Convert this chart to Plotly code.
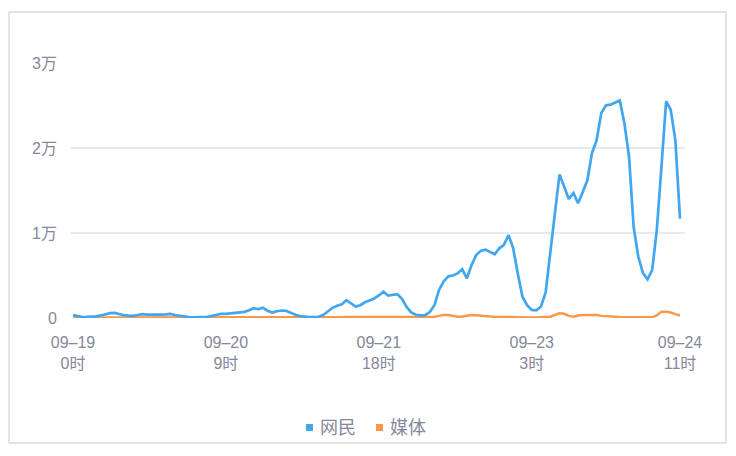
import plotly.graph_objects as go

# hourly index from 09-19 0时 to 09-24 11时
hours = list(range(132))

tick_hours = [0, 33, 66, 99, 131]
tick_labels = ["09–19<br>0时", "09–20<br>9时", "09–21<br>18时", "09–23<br>3时", "09–24<br>11时"]

y_ticks = [0, 10000, 20000, 30000]
y_labels = ["0", "1万", "2万", "3万"]

series_names = ["网民", "媒体"]

netizen = [
    330, 200, 120, 130, 150, 200, 300, 450, 580, 600,
    450, 330, 280, 250, 350, 450, 400, 380, 400, 400,
    420, 480, 350, 250, 150, 100, 80, 80, 100, 150,
    250, 400, 500, 480, 550, 600, 620, 720, 900, 1150,
    1050, 1200, 850, 650, 800, 880, 850, 600, 380, 230,
    130, 100, 100, 150, 350, 750, 1200, 1450, 1600, 2100,
    1750, 1350, 1500, 1850, 2050, 2300, 2650, 3100, 2650, 2700,
    2800, 2250, 1300, 650, 380, 300, 330, 700, 1500, 3300,
    4300, 4900, 5000, 5250, 5750, 4650, 6200, 7400, 7900, 8050,
    7800, 7500, 8200, 8600, 9750, 8200, 5200, 2500, 1500, 950,
    900, 1350, 3000, 7300, 12300, 16900, 15500, 14000, 14700, 13500,
    14800, 16200, 19400, 20900, 24100, 25000, 25100, 25400, 25600, 22900,
    19000, 10700, 7200, 5300, 4550, 5650, 10400, 17800, 25500, 24500,
    20900, 11700,
]

media = [
    40, 30, 20, 20, 20, 30, 40, 50, 60, 60,
    50, 40, 40, 40, 50, 50, 50, 50, 50, 50,
    50, 50, 40, 30, 30, 20, 20, 20, 20, 30,
    40, 50, 60, 60, 70, 70, 80, 80, 90, 100,
    100, 100, 90, 80, 80, 80, 80, 70, 60, 50,
    50, 50, 50, 60, 70, 80, 90, 100, 100, 110,
    110, 100, 100, 110, 120, 120, 130, 130, 120, 120,
    120, 110, 100, 90, 90, 90, 90, 100, 150, 250,
    350, 350, 250, 150, 180, 300, 350, 320, 300, 250,
    180, 150, 130, 110, 100, 90, 80, 70, 60, 60,
    60, 70, 80, 150, 350, 550, 500, 250, 150, 300,
    350, 350, 420, 350, 250, 200, 200, 150, 120, 100,
    90, 80, 80, 80, 80, 100, 300, 750, 750, 650,
    450, 300,
]

BLUE = "#40a6ef"
ORANGE = "#f99848"
TEXT = "#85889b"
GRID = "#e6eaf3"
FONT = "Liberation Sans, Noto Sans CJK SC, sans-serif"

W, H = 736, 456
L, R, T, B = 71, 685, 63, 318  # plot area in px
pw, ph = R - L, B - T


def px_x(x):
    return (x - L) / pw


def px_y(y):
    return (B - y) / ph


fig = go.Figure()
fig.add_trace(go.Scatter(x=hours, y=media, mode="lines", name=series_names[1],
                         line=dict(color=ORANGE, width=2.5), showlegend=False))
fig.add_trace(go.Scatter(x=hours, y=netizen, mode="lines", name=series_names[0],
                         line=dict(color=BLUE, width=2.7), showlegend=False))

px_per_h = (680 - 73) / 131
x0 = -(73 - L) / px_per_h
x1 = 131 + (R - 680) / px_per_h

fig.update_layout(
    width=W, height=H,
    margin=dict(l=L, r=W - R, t=T, b=H - B),
    paper_bgcolor="white", plot_bgcolor="white",
    font=dict(family=FONT, color=TEXT, size=16),
    showlegend=False,
    xaxis=dict(range=[x0, x1], tickvals=tick_hours, ticktext=tick_labels,
               showgrid=False, zeroline=False, showline=False, ticks="",
               ticklabelstandoff=13, tickfont=dict(size=16, color=TEXT)),
    yaxis=dict(range=[0, 30000], tickvals=y_ticks, ticktext=y_labels,
               showgrid=True, gridcolor=GRID, gridwidth=1.5, zeroline=False,
               showline=False, ticks="", ticklabelstandoff=13,
               tickfont=dict(size=16, color=TEXT)),
)

# outer frame
fig.add_shape(type="rect", xref="paper", yref="paper",
              x0=px_x(9), x1=px_x(726), y0=px_y(443), y1=px_y(12),
              line=dict(color="#c8c8c8", width=1), fillcolor="rgba(0,0,0,0)", layer="below")

# legend (square swatches + labels)
legend_items = [(series_names[0], BLUE, 306), (series_names[1], ORANGE, 376)]
for name, col, sx in legend_items:
    fig.add_shape(type="rect", xref="paper", yref="paper",
                  x0=px_x(sx), x1=px_x(sx + 7), y0=px_y(431), y1=px_y(424),
                  line=dict(width=0), fillcolor=col)
    fig.add_annotation(xref="paper", yref="paper", x=px_x(sx + 12), y=px_y(427.5),
                       text=name, showarrow=False, xanchor="left", yanchor="middle",
                       font=dict(size=18, color=TEXT, family=FONT))

fig.write_html("out.html", config={"displayModeBar": False},
               post_script="document.body.style.margin='0';")
